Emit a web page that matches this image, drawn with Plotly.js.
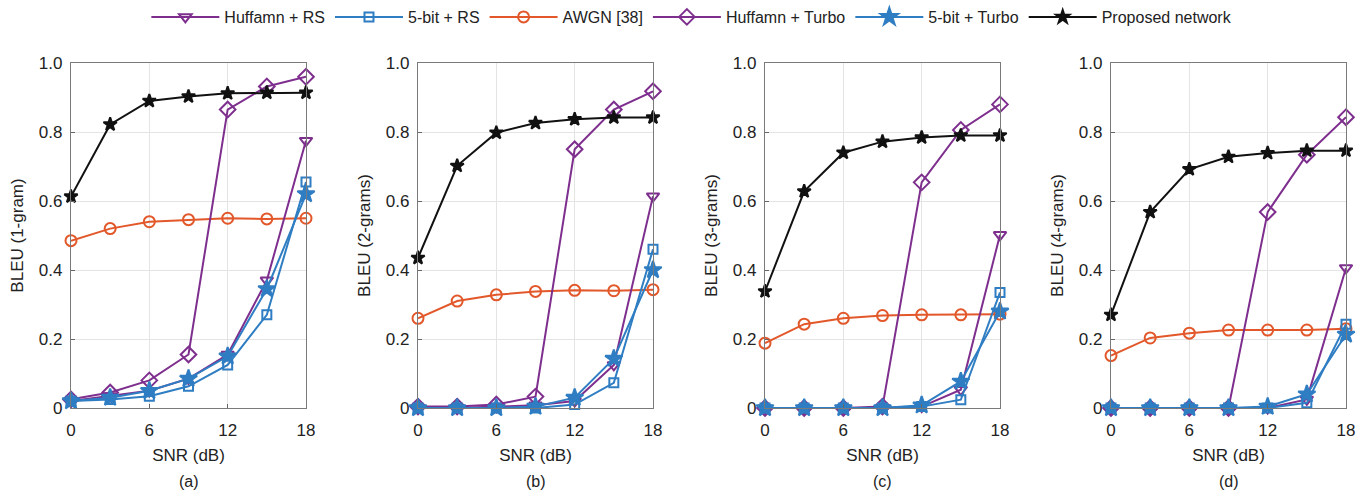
<!DOCTYPE html>
<html>
<head>
<meta charset="utf-8">
<script src="https://cdn.plot.ly/plotly-3.0.1.min.js"></script>
<style>html,body{margin:0;padding:0;background:#fff;}#chart{width:1370px;height:495px;}</style>
</head>
<body>
<div id="chart"></div>
<script>
const snr = [0, 3, 6, 9, 12, 15, 18];
const seriesNames = ["Huffamn + RS", "5-bit + RS", "AWGN [38]", "Huffamn + Turbo", "5-bit + Turbo", "Proposed network"];
const panelLabels = ["(a)", "(b)", "(c)", "(d)"];
const yTitles = ["BLEU (1-gram)", "BLEU (2-grams)", "BLEU (3-grams)", "BLEU (4-grams)"];
const xTickVals = [0, 6, 12, 18];
const yTickVals = [0, 0.2, 0.4, 0.6, 0.8, 1.0];
const yTickText = ["0", "0.2", "0.4", "0.6", "0.8", "1.0"];

// Panel (a) 1-gram
const huffRS_a    = [0.02, 0.035, 0.05, 0.085, 0.155, 0.37, 0.775];
const bitRS_a     = [0.02, 0.025, 0.034, 0.063, 0.125, 0.27, 0.655];
const awgn_a      = [0.485, 0.52, 0.54, 0.546, 0.55, 0.548, 0.55];
const huffTurbo_a = [0.025, 0.045, 0.08, 0.155, 0.865, 0.932, 0.96];
const bitTurbo_a  = [0.02, 0.03, 0.05, 0.085, 0.15, 0.345, 0.62];
const proposed_a  = [0.613, 0.822, 0.89, 0.903, 0.912, 0.914, 0.914];

// Panel (b) 2-grams
const huffRS_b    = [0.0, 0.0, 0.004, 0.008, 0.02, 0.125, 0.614];
const bitRS_b     = [0.0, 0.0, 0.0, 0.0, 0.01, 0.073, 0.46];
const awgn_b      = [0.26, 0.31, 0.328, 0.338, 0.341, 0.34, 0.343];
const huffTurbo_b = [0.004, 0.004, 0.01, 0.033, 0.75, 0.865, 0.918];
const bitTurbo_b  = [0.0, 0.0, 0.0, 0.004, 0.03, 0.143, 0.4];
const proposed_b  = [0.435, 0.702, 0.798, 0.826, 0.837, 0.842, 0.842];

// Panel (c) 3-grams
const huffRS_c    = [0.0, 0.0, 0.0, 0.0, 0.004, 0.053, 0.502];
const bitRS_c     = [0.0, 0.0, 0.0, 0.0, 0.004, 0.024, 0.335];
const awgn_c      = [0.188, 0.243, 0.26, 0.268, 0.27, 0.27, 0.272];
const huffTurbo_c = [0.0, 0.0, 0.0, 0.004, 0.654, 0.806, 0.88];
const bitTurbo_c  = [0.0, 0.0, 0.0, 0.0, 0.008, 0.077, 0.28];
const proposed_c  = [0.338, 0.628, 0.74, 0.772, 0.784, 0.79, 0.79];

// Panel (d) 4-grams
const huffRS_d    = [0.0, 0.0, 0.0, 0.0, 0.0, 0.025, 0.406];
const bitRS_d     = [0.0, 0.0, 0.0, 0.0, 0.0, 0.015, 0.243];
const awgn_d      = [0.152, 0.203, 0.217, 0.226, 0.226, 0.226, 0.23];
const huffTurbo_d = [0.0, 0.0, 0.0, 0.0, 0.568, 0.734, 0.843];
const bitTurbo_d  = [0.0, 0.0, 0.0, 0.0, 0.004, 0.04, 0.213];
const proposed_d  = [0.27, 0.568, 0.692, 0.728, 0.739, 0.746, 0.746];

const panels = [
  [huffRS_a, bitRS_a, awgn_a, huffTurbo_a, bitTurbo_a, proposed_a],
  [huffRS_b, bitRS_b, awgn_b, huffTurbo_b, bitTurbo_b, proposed_b],
  [huffRS_c, bitRS_c, awgn_c, huffTurbo_c, bitTurbo_c, proposed_c],
  [huffRS_d, bitRS_d, awgn_d, huffTurbo_d, bitTurbo_d, proposed_d]
];

const PURPLE = "#7E2F8E", BLUE = "#2F7DC2", ORANGE = "#E2582A", BLACK = "#111111";
const styles = [
  {color: PURPLE, symbol: "triangle-down-open", size: 11},
  {color: BLUE, symbol: "square-open", size: 9},
  {color: ORANGE, symbol: "circle-open", size: 11},
  {color: PURPLE, symbol: "diamond-open", size: 12},
  {color: BLUE, symbol: "star", size: 13},
  {color: BLACK, symbol: "star", size: 10}
];
const drawOrder = [2, 0, 3, 1, 4, 5];

const traces = [];
panels.forEach((p, pi) => {
  const ax = pi === 0 ? "" : String(pi + 1);
  drawOrder.forEach(si => {
    const st = styles[si];
    traces.push({
      x: snr, y: p[si], type: "scatter", mode: "lines+markers",
      name: seriesNames[si], legendgroup: seriesNames[si],
      showlegend: pi === 0, legendrank: si + 1,
      xaxis: "x" + ax, yaxis: "y" + ax, cliponaxis: false,
      line: {color: st.color, width: 2},
      marker: {symbol: st.symbol, size: st.size, color: st.color,
               line: {color: st.color, width: 2}}
    });
  });
});

const W = 1370, H = 495;
const panelLeft = [71, 418, 765, 1111];
const panelW = 235;
const plotTop = 63, plotBottom = 408;
const FAM = "Liberation Sans, Arial, sans-serif";
const TXT = "#222";

const layout = {
  width: W, height: H,
  margin: {l: 0, r: 0, t: 0, b: 0},
  paper_bgcolor: "#fff", plot_bgcolor: "#fff",
  font: {family: FAM, size: 17, color: TXT},
  showlegend: true,
  legend: {orientation: "h", x: 0.505, xanchor: "center", y: 1.0, yanchor: "top",
           font: {family: FAM, size: 16, color: TXT},
           itemwidth: 68, tracegroupgap: 0, bgcolor: "rgba(0,0,0,0)"},
  annotations: []
};

for (let i = 0; i < 4; i++) {
  const ax = i === 0 ? "" : String(i + 1);
  const dom = [panelLeft[i] / W, (panelLeft[i] + panelW) / W];
  layout["xaxis" + ax] = {
    domain: dom, anchor: "y" + ax, range: [0, 18],
    tickvals: xTickVals, ticks: "inside", ticklen: 4, tickcolor: "#666",
    showline: true, mirror: true, linecolor: "#7a7a7a", linewidth: 1.2,
    showgrid: true, gridcolor: "#e4e4e4", zeroline: false,
    tickfont: {family: FAM, size: 17, color: TXT}, ticklabelstandoff: 6,
    title: {text: "SNR (dB)", font: {family: FAM, size: 17, color: TXT}, standoff: 10},
    automargin: false, fixedrange: true
  };
  layout["yaxis" + ax] = {
    domain: [1 - plotBottom / H, 1 - plotTop / H], anchor: "x" + ax, range: [0, 1],
    tickvals: yTickVals, ticktext: yTickText, ticks: "inside", ticklen: 4, tickcolor: "#666",
    showline: true, mirror: true, linecolor: "#7a7a7a", linewidth: 1.2,
    showgrid: true, gridcolor: "#e4e4e4", zeroline: false,
    tickfont: {family: FAM, size: 17, color: TXT}, ticklabelstandoff: 4,
    title: {text: yTitles[i], font: {family: FAM, size: 17, color: TXT}, standoff: 10},
    automargin: false, fixedrange: true
  };
  layout.annotations.push({
    text: panelLabels[i], xref: "paper", yref: "paper",
    x: (panelLeft[i] + panelW / 2) / W, y: 1 - 481 / H, xanchor: "center", yanchor: "middle",
    showarrow: false, font: {family: FAM, size: 16, color: TXT}
  });
}

Plotly.newPlot("chart", traces, layout, {staticPlot: true, displayModeBar: false});
</script>
</body>
</html>
